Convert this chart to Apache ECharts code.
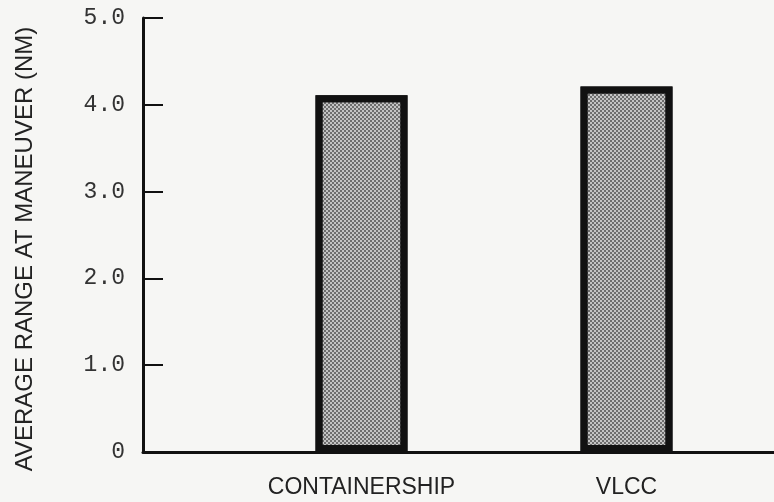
<!DOCTYPE html>
<html>
<head>
<meta charset="utf-8">
<script src="https://cdn.jsdelivr.net/npm/echarts@6/dist/echarts.min.js"></script>
<style>
  html, body { margin: 0; padding: 0; background: #f6f6f4; }
  #chart { width: 774px; height: 502px; }
</style>
</head>
<body>
<div id="chart"></div>
<script>
// Average range at maneuver, by ship type
const categories = ['CONTAINERSHIP', 'VLCC'];
const avgRange = [4.11, 4.21];
const yTicks = [0, 1, 2, 3, 4, 5];
const yTitle = 'AVERAGE RANGE AT MANEUVER (NM)';

const chart = echarts.init(document.getElementById('chart'), null, { renderer: 'canvas' });

const ink = '#111';

chart.setOption({
  backgroundColor: '#f6f6f4',
  animation: false,
  grid: [
    // frame: vertical scale and the long baseline
    { left: 143, right: -10, top: 18, bottom: 50 },
    // bars
    { left: 229, right: 15, top: 18, bottom: 50 }
  ],
  xAxis: [
    {
      gridIndex: 0, type: 'value', min: 0, max: 1,
      axisLine: { show: true, lineStyle: { color: ink, width: 3 } },
      axisTick: { show: false }, axisLabel: { show: false }, splitLine: { show: false }
    },
    {
      gridIndex: 1, type: 'category', data: categories,
      axisLine: { show: false }, axisTick: { show: false },
      axisLabel: {
        margin: 24, color: '#222',
        fontFamily: 'Liberation Sans', fontSize: 23
      }
    }
  ],
  yAxis: [
    {
      gridIndex: 0, type: 'value', min: yTicks[0], max: yTicks[yTicks.length - 1], interval: 1,
      axisLine: { show: true, lineStyle: { color: ink, width: 3 } },
      axisTick: { show: true, inside: true, length: 20, lineStyle: { color: ink, width: 2 } },
      splitLine: { show: false },
      axisLabel: {
        margin: 18, color: '#333',
        fontFamily: 'Liberation Mono', fontSize: 23,
        formatter: v => (v === 0 ? '0' : v.toFixed(1))
      },
      name: yTitle, nameLocation: 'middle', nameGap: 106,
      nameTextStyle: {
        color: '#222', fontFamily: 'Liberation Sans', fontSize: 24,
        padding: [0, 28, 0, 0]
      }
    },
    {
      gridIndex: 1, type: 'value', min: 0, max: 5, show: false
    }
  ],
  series: [
    {
      type: 'bar',
      xAxisIndex: 1, yAxisIndex: 1,
      data: avgRange,
      barWidth: 92,
      itemStyle: {
        color: '#c4c4c4',
        borderColor: ink,
        borderWidth: 7,
        decal: {
          symbol: 'rect',
          symbolSize: 1,
          color: 'rgba(40,40,40,0.55)',
          dashArrayX: [[2, 2], [0, 2, 2, 0]],
          dashArrayY: [2, 0]
        }
      }
    }
  ]
});
</script>
</body>
</html>
